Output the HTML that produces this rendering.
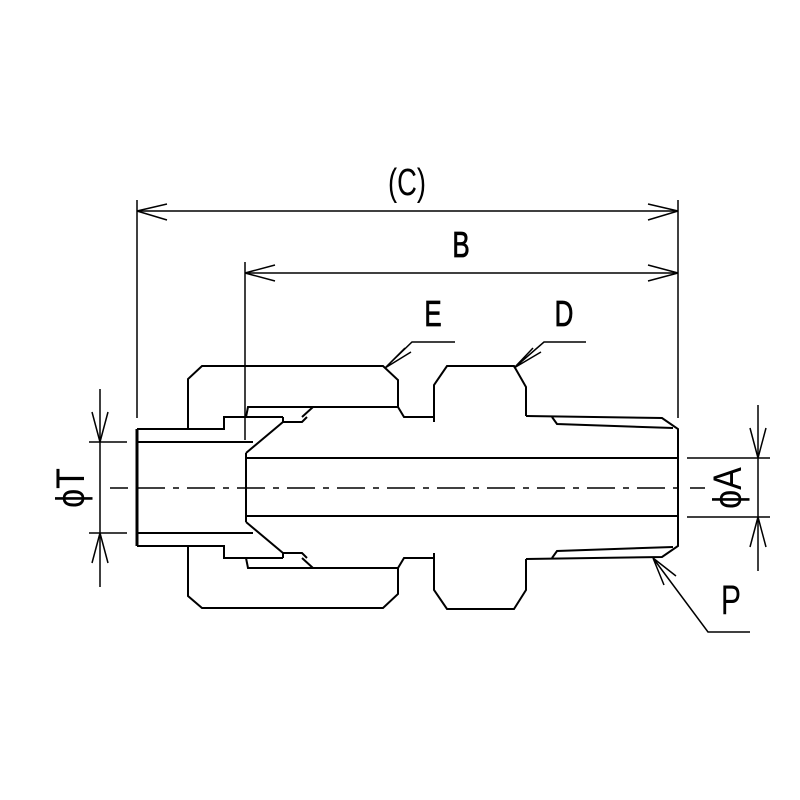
<!DOCTYPE html>
<html><head><style>html,body{margin:0;padding:0;background:#fff}svg{display:block}</style></head>
<body>
<svg width="800" height="800" viewBox="0 0 800 800" xmlns="http://www.w3.org/2000/svg" fill="none" stroke="#000" stroke-linejoin="miter">
<g stroke-width="2">
<path d="M188,429 L188,379 L202,366 L383,366 L398,380 L398,407"/>
<path d="M188,546 L188,596 L202,608 L383,608 L398,594 L398,568"/>
<path d="M188,429 L224,429 L224,417 L283,417"/>
<path d="M188,546 L224,546 L224,558 L283,558"/>
<path d="M246,417 L248,407 L398,407 L404,417 L434,417"/>
<path d="M246,558 L248,568 L398,568 L404,558 L434,558"/>
<path d="M313,407 L302,417 M313,568 L302,558"/>
<path d="M137,429 L137,546" stroke-width="3"/>
<path d="M137,429 L188,429 M137,546 L188,546"/>
<path d="M137,442 L253,442 M137,533 L253,533"/>
<path d="M246,453 L283,422 L302,422 L307,417"/>
<path d="M246,522 L283,553 L302,553 L307,558"/>
<path d="M246,453 L246,522"/>
<path d="M283,422 L283,417 M283,553 L283,558"/>
<path d="M246,458 L678,458 M246,516 L678,516"/>
<path d="M434,422 L434,385 L447,366 L514,366 L526,387 L526,416"/>
<path d="M434,553 L434,590 L447,609 L514,609 L526,590 L526,559"/>
<path d="M526,416 L662,418 L678,429 L678,546 L662,557 L526,559"/>
<path d="M552,417 L557,424 L673,428"/>
<path d="M552,558 L557,551 L673,547"/>
</g>
<path d="M110,488 L128,488 M137,488 L680,488 M690,488 L705,488" stroke-width="1.5" stroke-dasharray="28,8,6,8"/>
<g stroke-width="1.5">
<path d="M137,200 L137,418 M678,200 L678,418 M245,262 L245,440"/>
<path d="M137,211 L678,211 M245,273 L678,273"/>
<path d="M137,211 L167,204 M137,211 L167,220 M678,211 L648,204 M678,211 L648,220"/>
<path d="M245,273 L275,265 M245,273 L275,281 M678,273 L648,265 M678,273 L648,281"/>
<path d="M385,368 L412,342 L455,342 M385,368 L405,348 M385,368 L411,352"/>
<path d="M514,368 L544,342 L586,342 M514,368 L533,348 M514,368 L541,352"/>
<path d="M653,558 L708,632 L750,632 M653,558 L664,585 M653,558 L676,576"/>
<path d="M100,389 L100,587 M89,442 L127,442 M89,533 L127,533"/>
<path d="M100,442 L92,412 M100,442 L108,412 M100,533 L92,563 M100,533 L108,563"/>
<path d="M758,405 L758,571 M687,458 L770,458 M687,517 L770,517"/>
<path d="M758,458 L750,428 M758,458 L766,428 M758,517 L750,547 M758,517 L766,547"/>
</g>
<g fill="#000" stroke="none" font-family="'Liberation Sans',sans-serif">
<text font-size="38" text-anchor="middle" transform="translate(407,195) scale(0.72,1)">(C)</text>
<text font-size="36" text-anchor="middle" stroke="#000" stroke-width="0.8" transform="translate(461,257) scale(0.72,1)">B</text>
<text font-size="36" text-anchor="middle" stroke="#000" stroke-width="0.8" transform="translate(433,326) scale(0.72,1)">E</text>
<text font-size="36" text-anchor="middle" stroke="#000" stroke-width="0.8" transform="translate(564,326) scale(0.72,1)">D</text>
<text font-size="42" text-anchor="middle" transform="translate(731,614) scale(0.72,1)">P</text>
<text font-size="40" text-anchor="middle" transform="translate(84,488) rotate(-90) scale(0.85,1)">ϕT</text>
<text font-size="40" text-anchor="middle" transform="translate(741,488) rotate(-90) scale(0.85,1)">ϕA</text>
</g>
</svg>
</body></html>
